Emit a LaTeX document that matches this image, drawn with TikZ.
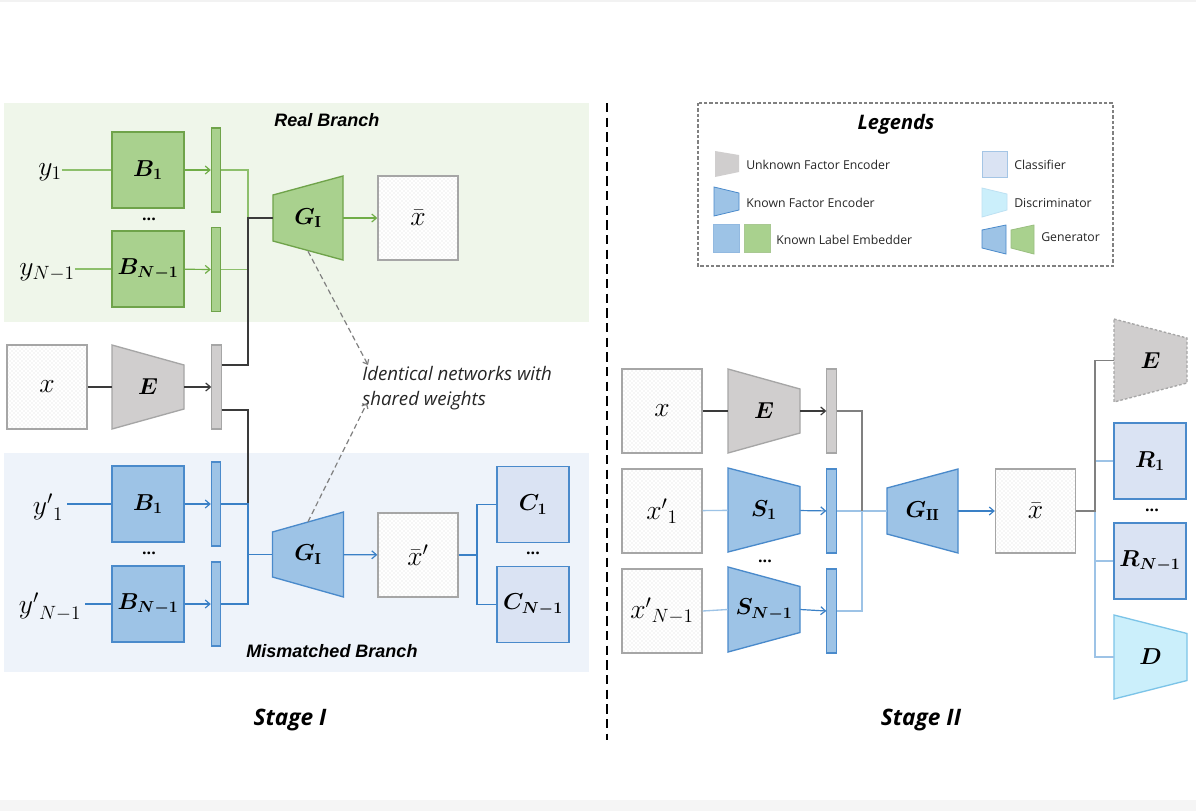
\documentclass[tikz,border=0pt]{standalone}
\usepackage{amsmath}
\usepackage{bm}
\usepackage{fontspec}
\newfontfamily\osans{Open Sans}
\newfontfamily\lsans{Liberation Sans}
\usetikzlibrary{arrows.meta,patterns,calc}

\definecolor{gfill}{HTML}{A9D18E}
\definecolor{gline}{HTML}{70AD47}
\definecolor{glight}{HTML}{8DBF6C}
\definecolor{gedge}{HTML}{6FA34A}
\definecolor{bfill}{HTML}{9DC3E6}
\definecolor{bline}{HTML}{3A80C6}
\definecolor{bedge}{HTML}{4A8ACB}
\definecolor{blight}{HTML}{9DC3E6}
\definecolor{cfill}{HTML}{DAE3F3}
\definecolor{dfill}{HTML}{CBEFFB}
\definecolor{dedge}{HTML}{7CC4E8}
\definecolor{grfill}{HTML}{D0CECE}
\definecolor{gredge}{HTML}{A6A6A6}
\definecolor{gband}{HTML}{EFF6EA}
\definecolor{bband}{HTML}{EEF3FA}
\definecolor{dark}{HTML}{3A3A3A}
\definecolor{midgray}{HTML}{808080}

\newcommand\trap[8]{%
  \draw[#7] ({#2-#4/2},{#3-#5/2}) -- ({#2+#4/2},{#3-#6/2}) -- ({#2+#4/2},{#3+#6/2}) -- ({#2-#4/2},{#3+#5/2}) -- cycle;
  \node[lbl, minimum width={#4*0.75pt}, minimum height={max(#5,#6)*0.75pt}] (#1) at (#2,#3) {#8};
}

\begin{document}
\begin{tikzpicture}[x=0.75pt,y=-0.75pt,
  lbl/.style={inner sep=0pt, font=\fontsize{17.28}{17.28}\selectfont},
  var/.style={inner sep=0pt, font=\fontsize{20.74}{20.74}\selectfont},
  imgbox/.style={draw=gredge, line width=1pt, preaction={fill=white}, pattern=crosshatch dots, pattern color=gray!30, minimum width=60pt, minimum height=63pt, inner sep=0pt, font=\fontsize{20.74}{20.74}\selectfont},
  gbox/.style={draw=gedge, line width=1pt, fill=gfill, minimum width=54pt, minimum height=57pt, inner sep=0pt, font=\fontsize{17.28}{17.28}\selectfont},
  bbox/.style={draw=bedge, line width=1pt, fill=bfill, minimum width=54pt, minimum height=57pt, inner sep=0pt, font=\fontsize{17.28}{17.28}\selectfont},
  cbox/.style={draw=bedge, line width=1pt, fill=cfill, minimum width=54pt, minimum height=57pt, inner sep=0pt, font=\fontsize{17.28}{17.28}\selectfont},
  bar/.style={line width=0.8pt, minimum width=7pt, minimum height=63pt, inner sep=0pt},
  gbar/.style={bar, draw=gedge, fill=gfill},
  bbar/.style={bar, draw=bedge, fill=bfill},
  kbar/.style={bar, draw=gredge, fill=grfill},
  gtrap/.style={draw=gedge, line width=1pt, fill=gfill},
  btrap/.style={draw=bedge, line width=1pt, fill=bfill},
  ktrap/.style={draw=gredge, line width=1pt, fill=grfill},
  dtrap/.style={draw=dedge, line width=1pt, fill=dfill},
  tip/.style={-{Straight Barb[length=3.5pt,width=6pt,line width=0.9pt]}},
  gconn/.style={draw=gline, line width=0.9pt},
  glconn/.style={draw=glight, line width=0.9pt},
  bconn/.style={draw=bline, line width=0.9pt},
  lbconn/.style={draw=blight, line width=1pt},
  kconn/.style={draw=dark, line width=0.9pt},
  grconn/.style={draw=midgray, line width=1.1pt},
  dots/.style={inner sep=0pt, font=\osans\bfseries\fontsize{12}{12}\selectfont},
  legtxt/.style={inner sep=0pt, anchor=west, font=\osans\fontsize{9.2}{10}\selectfont, text=black!85},
  branch/.style={inner sep=0pt, font=\lsans\bfseries\itshape\fontsize{13.5}{13.5}\selectfont},
  stage/.style={inner sep=0pt, font=\osans\bfseries\itshape\fontsize{17}{17}\selectfont},
  note arrow/.style={draw=gray, line width=0.9pt, dash pattern=on 4pt off 2.5pt, -{Straight Barb[length=3pt,width=5pt,line width=0.9pt]}},
]
\useasboundingbox (0,0) rectangle (1196,811);
\fill[white] (0,0) rectangle (1196,811);
\fill[black!5] (0,0) rectangle (1196,1.5);
\fill[black!4] (0,800) rectangle (1196,811);

% ---------------- Stage I bands
\fill[gband] (4,103) rectangle (589,322);
\fill[bband] (4,453) rectangle (589,672);
\node[branch] (realT) at (327,120) {Real Branch};
\node[branch] (misT) at (332,651) {Mismatched Branch};

% real branch
\node[gbox] (gB1) at (148,170) {$\bm{B_{1}}$};
\node[gbox] (gBN) at (148,269) {$\bm{B_{N-1}}$};
\node[dots] (gdots) at (149,219) {...};
\node[var] (y1) at (50,172) {$y_{1}$};
\node[var] (yN) at (47,272) {$y_{N-1}$};
\node[gbar] (gbar1) at (216,170) {};
\node[gbar] (gbar2) at (216,269.5) {};
\trap{GIg}{308}{218}{70}{46}{84}{gtrap}{$\bm{G_{\mathrm{I}}}$}
\node[imgbox] (xbar) at (418,218) {$\bar{x}$};

% x and E
\node[imgbox] (xL) at (47,387) {$x$};
\trap{EL}{148}{387}{72}{84}{44}{ktrap}{$\bm{E}$}
\node[kbar] (kbar) at (216.5,387) {};

% mismatched branch
\node[bbox] (bB1) at (148,504) {$\bm{B_{1}}$};
\node[bbox] (bBN) at (148,604) {$\bm{B_{N-1}}$};
\node[dots] (bdots) at (149,553) {...};
\node[var] (yp1) at (48,507) {${y'}_{1}$};
\node[var] (ypN) at (50,607) {${y'}_{N-1}$};
\node[bbar] (bbar1) at (216,504) {};
\node[bbar] (bbar2) at (216,604) {};
\trap{GIb}{308}{554.5}{71}{45}{85}{btrap}{$\bm{G_{\mathrm{I}}}$}
\node[imgbox] (xbarp) at (418,555) {$\bar{x}'$};
\node[cbox] (C1) at (533,504.5) {$\bm{C_{1}}$};
\node[cbox] (CN) at (533,604.5) {$\bm{C_{N-1}}$};
\node[dots] (cdots) at (533,553) {...};

\coordinate (jg) at (248,218);
\coordinate (jbt) at (248,504);
\coordinate (jb) at (248,554.5);
\coordinate (jc) at (477,555);

% connectors real
\draw[glconn] (y1.east |- gB1) -- (gB1);
\draw[glconn] (yN.east |- gBN) -- (gBN);
\draw[gconn,tip] (gB1) -- (gbar1);
\draw[gconn,tip] (gBN) -- (gbar2);
\draw[glconn] (gbar1.east) -| (jg) |- (gbar2.east);
\draw[gconn,tip] (GIg) -- (xbar);
% black
\draw[kconn] (xL) -- (EL);
\draw[kconn,tip] (EL) -- (kbar);
\draw[kconn] ($(kbar.east)+(0,-22)$) -| (jg) -- (GIg.west);
\draw[kconn] ($(kbar.east)+(0,23)$) -| (jbt);
% connectors mismatched
\draw[bconn] (yp1.east |- bB1) ++(4,0) -- (bB1);
\draw[bconn] (ypN.east |- bBN) ++(4,0) -- (bBN);
\draw[bconn,tip] (bB1) -- (bbar1);
\draw[bconn,tip] (bBN) -- (bbar2);
\draw[bconn] (bbar1.east) -| (jb) |- (bbar2.east);
\draw[bconn] (jb) -- (GIb.west);
\draw[bconn,tip] (GIb) -- (xbarp);
\draw[bconn] (xbarp) -- (jc);
\draw[bconn] (C1.west) -| (jc) |- (CN.west);

% note
\node[inner sep=0pt, anchor=north west, align=left, font=\osans\itshape\fontsize{14}{19}\selectfont, text=black!85] (note) at (362,366) {Identical networks with\\shared weights};
\draw[note arrow] ($(GIg.south)+(0,-9)$) -- ($(note.north west)+(6,-1)$);
\draw[note arrow] ($(GIb.north)+(0,10)$) -- ($(note.north west)+(5,37)$);

\node[stage] (st1) at (290,720) {Stage I};

% divider
\coordinate (divT) at (607,103);
\coordinate (divB) at (607,740);
\draw[black, line width=1pt, dash pattern=on 7pt off 4pt] (divT) -- (divB);

% ---------------- Legend
\draw[draw=gray, line width=0.9pt, dash pattern=on 2.5pt off 1.5pt] (698,103) rectangle (1113,266);
\node[inner sep=0pt, font=\osans\bfseries\itshape\fontsize{15}{15}\selectfont] (legT) at (896,124) {Legends};
\fill[grfill] (715,151) -- (739,155) -- (739,172) -- (715,177) -- cycle;
\filldraw[fill=bfill, draw=bedge, line width=0.6pt] (714,187) -- (739,193) -- (739,210) -- (714,216) -- cycle;
\filldraw[fill=bfill, draw=bedge!60, line width=0.6pt] (713,224) rectangle (739,252);
\filldraw[fill=gfill, draw=gedge!60, line width=0.6pt] (744,224) rectangle (770,252);
\filldraw[fill=cfill, draw=bedge!50, line width=0.6pt] (982,151) rectangle (1007,177);
\filldraw[fill=dfill, draw=dedge!50, line width=0.6pt] (982,188) -- (1007,194) -- (1007,210) -- (982,217) -- cycle;
\filldraw[fill=bfill, draw=bedge, line width=0.6pt] (982,230) -- (1006,225) -- (1006,254) -- (982,248) -- cycle;
\filldraw[fill=gfill, draw=gedge!70, line width=0.6pt] (1011,230) -- (1034,225) -- (1034,254) -- (1011,248) -- cycle;
\node[legtxt] (l1) at (746,165) {Unknown Factor Encoder};
\node[legtxt] (l2) at (746,203) {Known Factor Encoder};
\node[legtxt] (l3) at (776,240) {Known Label Embedder};
\node[legtxt] (l4) at (1014,165) {Classifier};
\node[legtxt] (l5) at (1014,203) {Discriminator};
\node[legtxt] (l6) at (1041,237) {Generator};

% ---------------- Stage II
\node[imgbox] (x2) at (662,411) {$x$};
\node[imgbox] (xp1) at (662,511) {${x'}_{1}$};
\node[imgbox] (xpN) at (662,611) {${x'}_{N-1}$};
\trap{E2}{764}{411}{72}{84}{44}{ktrap}{$\bm{E}$}
\trap{S1}{764}{510}{72}{84}{47}{btrap}{$\bm{S_{1}}$}
\trap{SN}{764}{609.5}{72}{85}{46}{btrap}{$\bm{S_{N-1}}$}
\node[dots] (sdots) at (765,561) {...};
\node[kbar] (kbar2) at (831.5,411) {};
\node[bbar] (sbar1) at (831.5,511) {};
\node[bbar] (sbar2) at (831.5,611) {};
\trap{G2}{922.5}{511}{71}{46}{84}{btrap}{$\bm{G_{\mathrm{II}}}$}
\node[imgbox] (xbar2) at (1035.5,511) {$\bar{x}$};
\coordinate (j2) at (862,511);
\coordinate (j3) at (1095,511);

\draw[kconn] (x2) -- (E2);
\draw[kconn,tip] (E2) -- (kbar2);
\draw[lbconn] (xp1) -- (S1);
\draw[lbconn] (xpN.east) -- (SN.west);
\draw[bconn,tip] (S1) -- (sbar1);
\draw[bconn,tip] (SN.east) -- (sbar2.west);
\draw[lbconn] (sbar2.east) -| (j2);
\draw[lbconn] (sbar1.east) -- (G2.west);
\draw[draw=gray, line width=0.9pt] (kbar2.east) -| (j2);
\draw[bconn,tip] (G2) -- (xbar2);

% right column
\trap{E3}{1150.5}{360.5}{73}{83}{45}{ktrap,dashed,dash pattern=on 2pt off 1.5pt}{$\bm{E}$}
\node[cbox] (R1) at (1150,461) {$\bm{R_{1}}$};
\node[cbox] (RN) at (1150,561) {$\bm{R_{N-1}}$};
\node[dots] (rdots) at (1152,510) {...};
\trap{D}{1150.5}{657}{73}{84}{47}{dtrap}{$\bm{D}$}
\draw[lbconn] (R1.west) -- (R1.west -| j3);
\draw[lbconn] (RN.west) -- (RN.west -| j3);
\draw[lbconn] (D.west) -| (j3);
\draw[grconn] (xbar2) -- (j3) |- (E3.west);

\node[stage] (st2) at (921,720) {Stage II};
\end{tikzpicture}
\end{document}
